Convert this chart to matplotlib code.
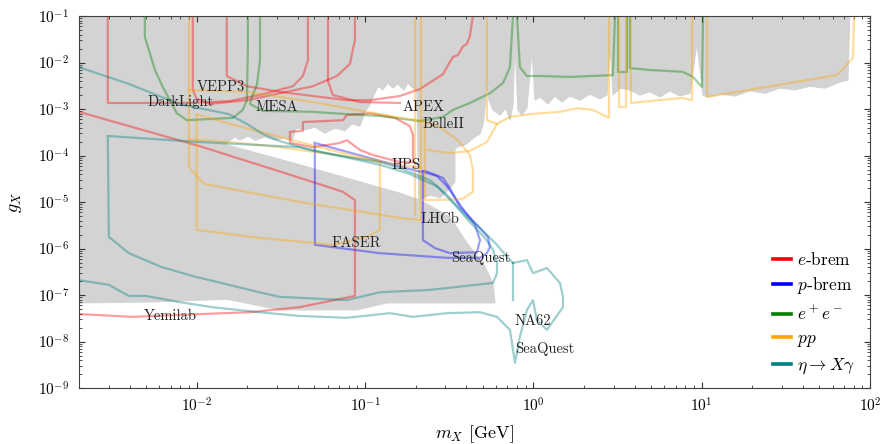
import numpy as np
import matplotlib.pyplot as plt
from matplotlib.lines import Line2D

plt.rcParams['font.family'] = 'serif'
plt.rcParams['font.serif'] = ['cmr10']
plt.rcParams['mathtext.fontset'] = 'cm'
plt.rcParams['axes.formatter.use_mathtext'] = True

# all curves stored as log10(m_X / GeV), log10(g_X)

# excluded region (grey): ragged lower edge of the upper part, left to right
gray_edge_lm = [-1.821, -1.773, -1.743, -1.696, -1.654, -1.595, -1.535, -1.476, -1.434, -1.411,
                -1.357, -1.298, -1.238, -1.179, -1.119, -1.078, -1.030, -1.000, -0.971, -0.947,
                -0.923, -0.894, -0.864, -0.834, -0.805, -0.769, -0.745, -0.715, -0.692, -0.680,
                -0.614, -0.555, -0.507, -0.466, -0.466, -0.454, -0.406, -0.377, -0.347, -0.317,
                -0.299, -0.288, -0.276, -0.264, -0.240, -0.198, -0.163, -0.139, -0.121, -0.109,
                -0.092, -0.068, -0.038, -0.008, 0.010, 0.039, 0.087, 0.128, 0.170, 0.217,
                0.277, 0.336, 0.396, 0.437, 0.455, 0.473, 0.515, 0.574, 0.633, 0.693,
                0.752, 0.812, 0.871, 0.931, 0.972, 1.008, 1.032, 1.109, 1.198, 1.287,
                1.376, 1.465, 1.554, 1.643, 1.733, 1.822, 1.869]
gray_edge_lg = [-3.73, -3.60, -3.67, -3.58, -3.67, -3.60, -3.67, -3.62, -3.69, -3.41,
                -3.45, -3.39, -3.52, -3.41, -3.47, -3.32, -3.37, -3.06, -2.91, -2.70,
                -2.51, -2.59, -2.44, -2.55, -2.46, -2.59, -2.44, -2.55, -2.63, -4.96,
                -4.85, -4.91, -4.74, -4.57, -3.88, -3.82, -3.77, -3.69, -3.60, -3.54,
                -3.34, -3.02, -2.38, -2.81, -3.02, -3.13, -2.98, -3.24, -2.91, -1.52,
                -3.02, -3.13, -2.98, -1.73, -2.81, -2.74, -2.89, -2.72, -2.85, -2.72,
                -2.81, -2.68, -2.78, -2.70, -1.58, -2.70, -2.55, -2.59, -2.70, -2.63,
                -2.74, -2.61, -2.72, -2.66, -1.58, -2.70, -2.74, -2.68, -2.72, -2.61,
                -2.66, -2.55, -2.59, -2.51, -2.55, -2.42, -2.38]
# closing corners of the upper/left grey part
gray_left_lm = [-1.821, -2.278, -2.700, -2.700, 1.880]
gray_left_lg = [-7.09, -7.15, -7.17, -1.00, -1.00]
# lower grey wedge
wedge_lm = [-1.821, -1.387, -0.793, -0.674, -0.496, -0.395, -0.299, -0.240, -0.228,
            -0.870, -1.048, -1.506, -1.821]
wedge_lg = [-3.77, -4.20, -4.81, -4.96, -5.32, -5.88, -6.31, -6.74, -7.17,
            -7.17, -7.32, -7.32, -7.09]

# e-brem
ebrem = [
    ([-2.70, -1.981, -1.387, -1.131, -1.060, -1.060, -1.387, -1.684, -1.981, -2.379, -2.70],
     [-3.06, -3.80, -4.48, -4.78, -4.96, -7.02, -7.26, -7.37, -7.41, -7.47, -7.41]),
    ([-2.528, -2.528, -2.040, -1.803, -1.607, -1.428, -1.369, -1.339, -1.339],
     [-1.00, -2.87, -2.87, -2.83, -2.68, -2.51, -2.29, -1.95, -1.00]),
    ([-2.023, -2.023, -2.0, -1.922, -1.702, -1.506, -1.310, -1.167, -1.090, -1.060, -1.060],
     [-1.00, -2.59, -2.78, -2.89, -2.81, -2.66, -2.51, -2.29, -2.03, -1.52, -1.00]),
    ([-1.821, -1.821, -1.702, -1.506, -1.310, -1.108, -0.971, -0.793, -0.674, -0.537, -0.478,
      -0.448, -0.418, -0.395, -0.377, -0.359],
     [-1.00, -2.29, -2.51, -2.63, -2.72, -2.81, -2.81, -2.72, -2.57, -2.25, -1.88,
      -1.84, -1.65, -1.60, -1.43, -1.00]),
    ([-1.220, -1.220, -1.191, -1.030, -0.793],
     [-1.00, -2.40, -2.70, -2.85, -2.87]),
    ([-0.715, -0.793, -0.953, -1.030, -1.108, -1.149, -1.310, -1.446, -1.446, -1.369, -1.369,
      -1.131, -1.108, -0.971, -0.822, -0.733, -0.715, -0.715],
     [-4.14, -4.14, -3.99, -3.88, -3.67, -3.73, -3.82, -3.73, -3.49, -3.47, -3.28,
      -3.24, -3.13, -3.09, -3.19, -3.37, -3.56, -4.14]),
]

# p-brem
pbrem = [
    ([-1.298, -1.298, -0.912, -0.513, -0.317, -0.276, -0.258, -0.270, -0.335, -0.436, -0.496,
      -0.537, -0.644, -0.674, -1.298],
     [-3.73, -5.92, -6.10, -6.20, -6.20, -6.10, -5.97, -5.75, -5.49, -5.11, -4.70,
      -4.48, -4.33, -4.35, -3.73]),
    ([-0.656, -0.573, -0.513, -0.436, -0.347, -0.317, -0.335, -0.496, -0.585, -0.656, -0.656],
     [-4.35, -4.44, -4.66, -5.06, -5.49, -5.82, -6.08, -6.10, -5.99, -5.82, -4.35]),
]

# e+e-
ee = [
    ([-2.308, -2.308, -2.248, -2.201, -2.118, -2.058, -1.785, -1.726, -1.702, -1.696, -1.696],
     [-1.00, -1.45, -2.16, -2.53, -3.09, -3.24, -3.19, -3.02, -2.81, -1.73, -1.00]),
    ([-1.624, -1.624, -1.642, -1.672, -1.684, -1.607, -1.310, -1.108, -0.912, -0.674, -0.537,
      -0.478, -0.377, -0.258, -0.180, -0.139, -0.121],
     [-1.00, -1.95, -2.48, -2.74, -2.89, -3.04, -3.06, -3.11, -3.15, -3.26, -3.17,
      -3.02, -2.87, -2.66, -2.44, -2.10, -1.00]),
    ([-0.097, -0.080, -0.038, 0.039, 0.217, 0.473, 0.485],
     [-1.00, -2.10, -2.29, -2.29, -2.31, -2.27, -1.00]),
    ([0.503, 0.503, 0.556, 0.556],
     [-1.00, -2.20, -2.20, -1.00]),
    ([0.574, 0.574, 0.693, 0.889, 0.949, 1.002, 1.008],
     [-1.00, -2.12, -2.16, -2.20, -2.31, -2.53, -1.00]),
]

# pp
pp = [
    ([-2.046, -2.046, -1.957, -1.387, -0.793, -0.668, -0.668],
     [-1.00, -4.25, -4.61, -5.00, -5.34, -5.39, -1.00]),
    ([-2.0, -1.803, -1.506, -1.108, -0.912, -0.912, -0.989, -1.191, -1.630, -2.0, -2.0],
     [-3.11, -3.32, -3.60, -3.97, -4.12, -5.60, -5.75, -5.92, -5.77, -5.60, -3.11]),
    ([-2.046, -1.803, -1.506, -1.090, -0.668],
     [-3.65, -3.71, -3.82, -4.03, -4.27]),
    ([-2.046, -1.702, -1.310, -0.912, -0.668, -0.555, -0.448, -0.377, -0.359, -0.359, -0.424,
      -0.614, -0.644, -0.644],
     [-2.59, -2.63, -2.85, -3.11, -3.26, -3.39, -3.67, -3.99, -4.31, -4.78, -4.94,
      -4.96, -4.96, -3.26]),
    ([-0.704, -0.704],
     [-1.00, -5.28]),
    ([-0.626, -0.496, -0.377, -0.276, -0.216, -0.139, -0.020, 0.158, 0.259, 0.354, 0.449, 0.449],
     [-3.88, -3.95, -3.90, -3.71, -3.32, -3.17, -3.11, -3.06, -2.98, -3.02, -3.19, -1.00]),
    ([-0.276, -0.276, -0.216],
     [-1.00, -3.24, -3.32]),
    ([0.509, 0.509, 0.550, 0.550],
     [-1.00, -2.96, -2.96, -1.00]),
    ([0.580, 0.580, 0.889, 0.943, 0.943],
     [-1.00, -2.87, -2.76, -2.81, -1.00]),
    ([1.032, 1.032, 1.804, 1.899, 1.905],
     [-1.00, -2.74, -2.27, -1.90, -1.00]),
]

# eta -> X gamma
eta = [
    ([-2.70, -2.403, -2.106, -1.809, -1.702, -1.607, -1.506, -1.310, -1.108, -0.912, -0.793,
      -0.614, -0.513, -0.395, -0.317, -0.216, -0.157, -0.121],
     [-2.10, -2.46, -2.89, -3.11, -3.32, -3.54, -3.69, -3.90, -4.03, -4.14, -4.27,
      -4.53, -4.85, -5.32, -5.56, -5.92, -6.18, -6.31]),
    ([-2.528, -1.981, -1.387, -0.912, -0.733, -0.573, -0.466, -0.377, -0.288, -0.240, -0.216,
      -0.216, -0.240, -0.614, -0.912, -1.108, -1.506, -1.630, -1.809, -2.005, -2.207,
      -2.403, -2.522, -2.528],
     [-3.58, -3.71, -3.82, -4.20, -4.40, -4.66, -5.06, -5.43, -5.77, -6.03, -6.31,
      -6.53, -6.74, -6.89, -6.94, -7.11, -7.04, -6.94, -6.78, -6.61, -6.40,
      -6.10, -5.75, -3.58]),
    ([-2.70, -2.522, -2.403, -2.302, -2.106, -1.910, -1.630, -1.387, -1.108, -0.852, -0.715,
      -0.513, -0.317, -0.216, -0.139, -0.121, -0.109, -0.080, -0.038, -0.002, 0.021,
      0.081, 0.176, 0.176, 0.158, 0.081, -0.002, -0.038, -0.121],
     [-6.68, -6.78, -7.02, -7.02, -7.15, -7.26, -7.37, -7.45, -7.49, -7.39, -7.47,
      -7.39, -7.37, -7.47, -7.75, -8.18, -8.46, -7.90, -7.32, -7.11, -7.54,
      -7.75, -7.26, -7.04, -6.74, -6.42, -6.53, -6.25, -6.31]),
    ([-0.121, -0.121],
     [-6.31, -7.11]),
]

# experiment labels
label_text = ['DarkLight', 'VEPP3', 'MESA', 'APEX', 'BelleII', 'HPS', 'LHCb', 'FASER',
              'SeaQuest', 'NA62', 'SeaQuest', 'Yemilab']
label_lm = [-2.094, -1.856, -1.524, -0.650, -0.537, -0.757, -0.555, -1.054,
            -0.311, -0.002, 0.069, -2.159]
label_lg = [-2.85, -2.53, -2.96, -2.96, -3.32, -4.20, -5.37, -5.88,
            -6.20, -7.56, -8.16, -7.45]

groups = [(ebrem, 'red', r'$e$-brem'),
          (pbrem, 'blue', r'$p$-brem'),
          (ee, 'green', r'$e^+e^-$'),
          (pp, 'orange', r'$pp$'),
          (eta, 'teal', r'$\eta\to X\gamma$')]

fig = plt.figure(figsize=(8.82, 4.44), dpi=100)
ax = fig.add_axes([0.0896, 0.1261, 0.8968, 0.8378])

top_m = 10 ** np.array(gray_left_lm[-1:] + gray_edge_lm[::-1] + gray_left_lm[:-1])
top_g = 10 ** np.array(gray_left_lg[-1:] + gray_edge_lg[::-1] + gray_left_lg[:-1])
ax.fill(top_m, top_g, facecolor='lightgray', edgecolor='lightgray', lw=0.8, zorder=0)
ax.fill(10 ** np.array(wedge_lm), 10 ** np.array(wedge_lg),
        facecolor='lightgray', edgecolor='lightgray', lw=0.8, zorder=0)

handles = []
for curves, col, lab in groups:
    for lm, lg in curves:
        ax.plot(10 ** np.array(lm), 10 ** np.array(lg), color=col, alpha=0.38, lw=1.6, zorder=2)
    handles.append(Line2D([], [], color=col, lw=2.6, label=lab))

for t, lm, lg in zip(label_text, label_lm, label_lg):
    ax.text(10 ** lm, 10 ** lg, t, fontsize=10.5, ha='center', va='center', color='#222222', zorder=3)

ax.set_xscale('log')
ax.set_yscale('log')
ax.set_xlim(2e-3, 1e2)
ax.set_ylim(1e-9, 1e-1)
ax.set_xlabel(r'$m_X$ [GeV]', fontsize=13, labelpad=6)
ax.set_ylabel(r'$g_X$', fontsize=13, labelpad=10)
ax.tick_params(which='both', direction='in', top=True, right=True, labelsize=11, color='0.2')
ax.tick_params(axis='y', which='major', pad=7)
ax.tick_params(axis='x', which='major', pad=6)
ax.tick_params(which='major', length=4)
ax.tick_params(which='minor', length=2)
for s in ax.spines.values():
    s.set_color('0.25')

ax.legend(handles=handles, loc='lower right', bbox_to_anchor=(1.0, -0.01), frameon=False,
          fontsize=12.5, handlelength=1.05, handletextpad=0.3, labelspacing=0.45)

fig.savefig('out.png', dpi=100)
